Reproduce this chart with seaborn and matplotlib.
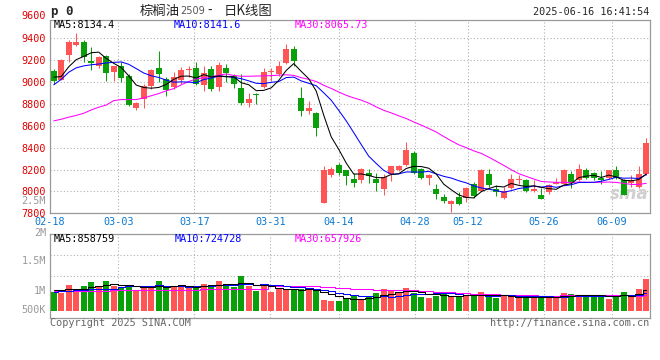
import numpy as np
import pandas as pd
import matplotlib
matplotlib.use("Agg")
import matplotlib.pyplot as plt
import seaborn as sns

# ---------------- data ----------------
opens = [9099, 9023, 9251, 9342, 9370, 9193, 9150, 9242, 9090, 9150,
         9059, 8761, 8843, 8968, 9129, 9029, 8959, 9023, 9114, 9129,
         8977, 9120, 8953, 9129, 9059, 8946, 8809, 8892, 8953, 9093,
         9074, 9172, 9303, 8855, 8739, 8718, 7896, 8152, 8246, 8192,
         8115, 8100, 8170, 8115, 8024, 8155, 8192, 8246, 8353, 8207,
         8122, 8021, 7948, 7881, 7948, 7939, 8070, 8006, 8155, 8024,
         7942, 8030, 8100, 8106, 8000, 7964, 7994, 8070, 8070, 8161,
         8100, 8192, 8170, 8125, 8122, 8198, 8100, 8079, 8039, 8155]
closes = [9007, 9202, 9370, 9367, 9226, 9175, 9230, 9080, 9144, 9038,
          8791, 8809, 8968, 9114, 9071, 8928, 9044, 9111, 9120, 8983,
          9083, 8937, 9156, 9083, 8983, 8809, 8846, 8886, 9096, 9099,
          9150, 9303, 9196, 8739, 8764, 8584, 8198, 8207, 8170, 8137,
          8079, 8207, 8137, 8073, 8131, 8228, 8237, 8380, 8170, 8122,
          8152, 7972, 7915, 7915, 7887, 8033, 7955, 8200, 8055, 7994,
          8000, 8115, 8115, 8003, 8024, 7930, 8055, 8085, 8198, 8085,
          8207, 8125, 8122, 8100, 8192, 8125, 7969, 8100, 8155, 8445]
highs = [9120, 9211, 9380, 9449, 9385, 9318, 9242, 9248, 9150, 9181,
         9074, 8816, 8983, 9120, 9284, 9044, 9090, 9141, 9150, 9187,
         9144, 9144, 9187, 9166, 9074, 9074, 8901, 8901, 9126, 9126,
         9190, 9348, 9327, 8953, 8828, 8724, 8237, 8222, 8258, 8198,
         8170, 8216, 8207, 8170, 8161, 8237, 8246, 8450, 8374, 8216,
         8161, 8064, 7978, 7920, 7994, 8039, 8085, 8205, 8207, 8061,
         8039, 8155, 8152, 8115, 8100, 8030, 8070, 8122, 8207, 8185,
         8252, 8216, 8176, 8185, 8197, 8228, 8115, 8146, 8237, 8490]
lows = [8983, 9020, 9181, 9333, 9187, 9114, 9126, 9010, 9013, 8998,
        8785, 8749, 8767, 8937, 9004, 8876, 8937, 8983, 9044, 8977,
        8922, 8922, 8922, 8998, 8946, 8791, 8776, 8800, 8943, 9013,
        9059, 9166, 9150, 8694, 8709, 8505, 7890, 8128, 8146, 8061,
        8045, 8079, 8076, 8006, 7969, 8091, 8183, 8237, 8161, 8115,
        8055, 7927, 7893, 7810, 7872, 7902, 7942, 8000, 8039, 7957,
        7933, 8024, 8070, 7994, 7994, 7927, 7978, 8064, 8064, 8030,
        8094, 8115, 8100, 8070, 8115, 8115, 7963, 8039, 8030, 8146]
volumes = [806000, 764000, 1089000, 877000, 1047000, 1216000, 990000, 1259000, 1047000, 990000,
           1089000, 849000, 948000, 1047000, 1259000, 990000, 990000, 1089000, 990000, 1047000,
           1132000, 1089000, 1259000, 1132000, 1018000, 1471000, 1047000, 835000, 1132000, 792000,
           948000, 877000, 877000, 919000, 877000, 877000, 453000, 424000, 424000, 481000,
           622000, 453000, 622000, 764000, 919000, 835000, 764000, 976000, 764000, 566000,
           537000, 622000, 735000, 622000, 622000, 622000, 693000, 806000, 594000, 537000,
           622000, 622000, 622000, 566000, 566000, 566000, 566000, 566000, 764000, 707000,
           665000, 665000, 622000, 665000, 495000, 665000, 792000, 566000, 919000, 1344000]

# moving-average values before enough in-window history exists
ma5_head = [9045, 9050, 9140, 9205]
ma10_head = [8975, 9025, 9090, 9130, 9148, 9158, 9165, 9175, 9180]
ma30_head = [8645, 8660, 8679, 8695, 8715, 8745, 8770, 8790, 8830, 8840,
             8840, 8840, 8855, 8875, 8895, 8920, 8940, 8975, 9005, 9029,
             9040, 9050, 9062, 9074, 9060, 9053, 9053, 9055, 9057]
vma5_head = [880000, 880000, 900000, 930000]
vma10_head = [810000, 820000, 840000, 860000, 880000, 900000, 920000, 930000, 940000]
vma30_head = [850000, 850000, 850000, 850000, 850000, 855000, 855000, 855000, 860000, 860000,
              860000, 860000, 865000, 865000, 870000, 880000, 885000, 890000, 890000, 895000,
              900000, 905000, 905000, 910000, 915000, 920000, 920000, 925000, 925000]

tick_days = [0, 9, 19, 29, 38, 48, 55, 65, 74]
tick_labels = ["02-18", "03-03", "03-17", "03-31", "04-14", "04-28", "05-12", "05-26", "06-09"]
price_ticks = [7800, 8000, 8200, 8400, 8600, 8800, 9000, 9200, 9400]
price_labels = ["7800", "8000", "8200", "8400", "8600", "8800", "9000", "9200", "9400"]
vol_labels = ["2.5M", "2M", "1.5M", "1M", "500K"]
ma_price_text = ["MA5:8134.4", "MA10:8141.6", "MA30:8065.73"]
ma_vol_text = ["MA5:858759", "MA10:724728", "MA30:657926"]

# ---------------- derived ----------------
n = len(closes)
idx = np.arange(n)
o = np.array(opens, float); c = np.array(closes, float)
h = np.array(highs, float); l = np.array(lows, float)
up = c >= o
RED, GREEN = "#ff5555", "#0aa00a"
cols = np.where(up, RED, GREEN)

cs = pd.Series(c)
ma5 = cs.rolling(5).mean().to_numpy(); ma5[:4] = ma5_head
ma10 = cs.rolling(10).mean().to_numpy(); ma10[:9] = ma10_head
ma30 = cs.rolling(30).mean().to_numpy(); ma30[:29] = ma30_head
vs = pd.Series(np.array(volumes, float))
vma5 = vs.rolling(5).mean().to_numpy(); vma5[:4] = vma5_head
vma10 = vs.rolling(10).mean().to_numpy(); vma10[:9] = vma10_head
vma30 = vs.rolling(30).mean().to_numpy(); vma30[:29] = vma30_head

tick_pos = [d * n / (n - 1) - 0.5 for d in tick_days]

# ---------------- figure ----------------
sns.set_style("white")
plt.rcParams["font.family"] = ["DejaVu Sans Mono", "Noto Sans CJK SC"]
W, H = 660, 360
fig = plt.figure(figsize=(W / 100, H / 100), dpi=100)
fig.patch.set_facecolor("white")

def rect(lf, tp, rt, bt):
    return [lf / W, 1 - bt / H, (rt - lf) / W, (bt - tp) / H]

def ftxt(x, y, s, **kw):
    fig.text(x / W, 1 - y / H, s, **kw)

GRID = "#b0b0b0"
BORDER = "#9a9a9a"
MONO = 7.3
LW = 0.75

# ---- price panel ----
ax = fig.add_axes(rect(50, 19.5, 650, 213.3))
ax.bar(idx, np.maximum(np.abs(c - o), 6), bottom=np.minimum(o, c), width=0.76,
       color=cols, linewidth=0, zorder=3)
ax.vlines(idx, l, h, colors=cols, linewidth=LW, zorder=2)
sns.lineplot(x=idx, y=ma30, color="#ff00ff", linewidth=LW, ax=ax, zorder=4)
sns.lineplot(x=idx, y=ma10, color="#0000ff", linewidth=LW, ax=ax, zorder=4)
sns.lineplot(x=idx, y=ma5, color="#000000", linewidth=LW, ax=ax, zorder=4)
ax.set_xlim(-0.5, n - 0.5)
ax.set_ylim(7800, 9572)
ax.set_xticks(tick_pos)
ax.set_xticklabels(tick_labels, color="#0a78d2", fontsize=MONO)
ax.set_yticks(price_ticks)
ax.set_yticklabels(price_labels, color="#e00000", fontsize=MONO)
ax.tick_params(length=0, pad=3)
ax.grid(True, linestyle=(0, (1, 2)), color=GRID, linewidth=0.8)
ax.set_axisbelow(True)
ax.set_xlabel(""); ax.set_ylabel("")
for sp in ax.spines.values():
    sp.set_color(BORDER); sp.set_linewidth(0.9)
ax.text(0.965, 0.1, "sina", transform=ax.transAxes, ha="center", va="center",
        fontsize=12, fontstyle="italic", fontweight="bold", color="#d0d0d0",
        family="DejaVu Sans", zorder=1)

# ---- volume panel ----
axv = fig.add_axes(rect(50, 234.3, 650, 318.3))
dirs = np.where(up, "up", "down")
sns.barplot(x=idx, y=np.array(volumes, float), hue=dirs, palette={"up": RED, "down": GREEN},
            native_scale=True, dodge=False, width=0.76, saturation=1, linewidth=0,
            legend=False, ax=axv, zorder=3)
sns.lineplot(x=idx, y=vma30, color="#ff00ff", linewidth=LW, ax=axv, drawstyle="steps-mid", zorder=4)
sns.lineplot(x=idx, y=vma10, color="#0000ff", linewidth=LW, ax=axv, drawstyle="steps-mid", zorder=4)
sns.lineplot(x=idx, y=vma5, color="#000000", linewidth=LW, ax=axv, drawstyle="steps-mid", zorder=4)
vlo, vhi = -0.322e6, 3.237e6
axv.set_xlim(-0.5, n - 0.5)
axv.set_ylim(vlo, vhi)
axv.set_xticks(tick_pos)
axv.set_xticklabels([])
axv.set_yticks([vlo + f * (vhi - vlo) for f in (0.504, 0.754)])
axv.set_yticklabels([])
axv.tick_params(length=0)
axv.grid(True, linestyle=(0, (1, 2)), color=GRID, linewidth=0.8)
axv.set_axisbelow(True)
axv.set_xlabel(""); axv.set_ylabel("")
for sp in axv.spines.values():
    sp.set_color(BORDER); sp.set_linewidth(0.9)

# ---- texts ----
ftxt(51, 11, "p 0", fontsize=9, fontweight="bold", ha="left", va="center")
cjk = ["Noto Sans CJK SC", "DejaVu Sans"]
ftxt(140, 10.5, "棕榈油", family=cjk, fontsize=9.6, ha="left", va="center")
ftxt(180, 11, "2509", family="DejaVu Sans", fontsize=7, color="#555555", ha="left", va="center")
ftxt(210, 10.5, "-", family=cjk, fontsize=9.6, ha="center", va="center")
ftxt(224, 10.5, "日K线图", family=cjk, fontsize=9.6, ha="left", va="center")
ftxt(649, 12, "2025-06-16 16:41:54", fontsize=MONO, ha="right", va="center")
ftxt(46, 15.7, "9600", fontsize=MONO, color="#e00000", ha="right", va="center")

for x0, s, col in zip([54, 174, 295], ma_price_text, ["#000000", "#0000ff", "#ff00ff"]):
    ftxt(x0, 24.5, s, fontsize=MONO, color=col, ha="left", va="center")
for x0, s, col in zip([54, 175, 295], ma_vol_text, ["#000000", "#0000ff", "#ff00ff"]):
    ftxt(x0, 238.5, s, fontsize=MONO, color=col, ha="left", va="center")

for y0, s in zip([201, 232.5, 260.7, 290.7, 310], vol_labels):
    ftxt(46, y0, s, fontsize=MONO, color="#999999", ha="right", va="center")

ftxt(50, 323.5, "Copyright 2025 SINA.COM", fontsize=MONO, color="#666666", ha="left", va="center")
ftxt(649, 323.5, "http://finance.sina.com.cn", fontsize=MONO, color="#666666", ha="right", va="center")

fig.savefig("out.png", dpi=100, facecolor="white")
